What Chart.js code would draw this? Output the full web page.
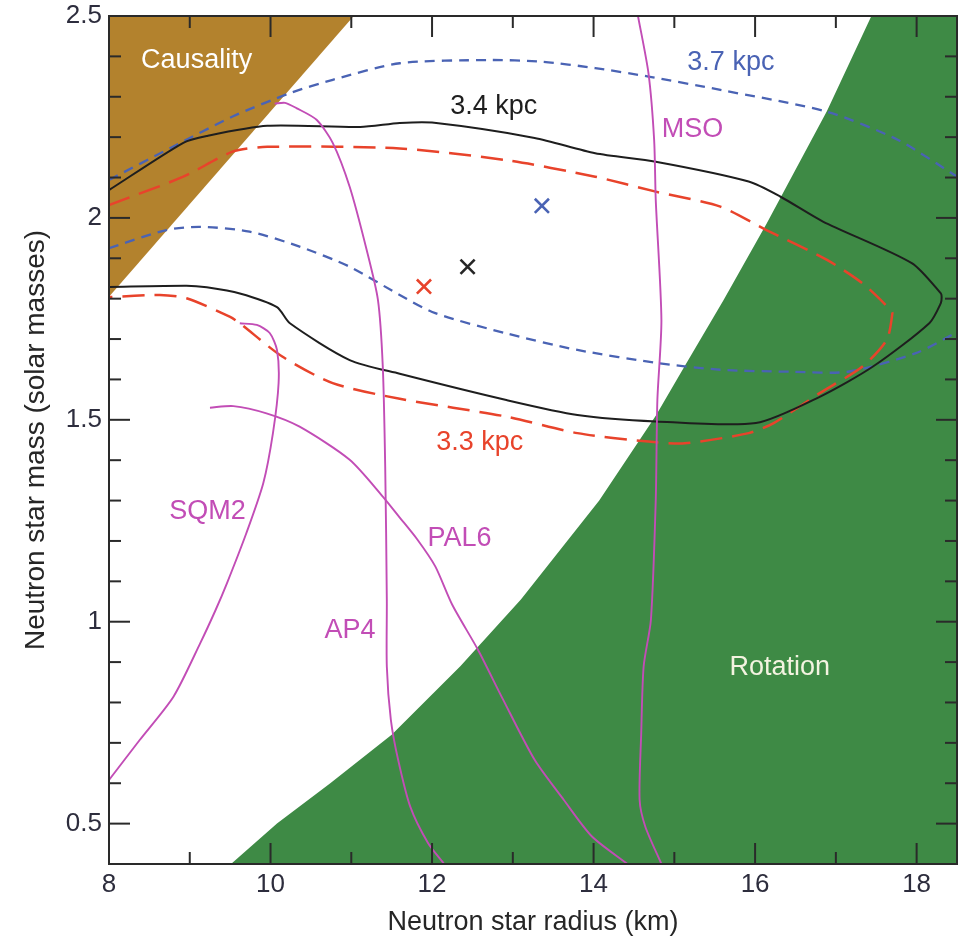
<!DOCTYPE html>
<html>
<head>
<meta charset="utf-8">
<script src="https://cdn.jsdelivr.net/npm/chart.js@4.4.1/dist/chart.umd.min.js"></script>
<style>
  html, body { margin: 0; padding: 0; background: #ffffff; }
  #wrap { width: 958px; height: 940px; }
</style>
</head>
<body>
<div id="wrap"><canvas id="mr" width="958" height="940"></canvas></div>
<script>
// ---- Neutron star mass (solar masses) vs radius (km) ----

// Excluded by causality (region above this edge)
const causalityR = [8.0, 11.03];
const causalityM = [1.805, 2.5];

// Excluded by rotation (region below/right of this edge)
const rotationR = [9.51, 10.08, 10.74, 11.50, 12.35, 13.10, 14.07, 14.77, 15.12, 15.61, 16.14, 16.89, 17.44, 18.5];
const rotationM = [0.40, 0.50, 0.60, 0.72, 0.89, 1.055, 1.30, 1.51, 1.63, 1.797, 1.985, 2.265, 2.5, 2.5];

// 3.4 kpc contour (solid)
const kpc34R = [8.00, 8.92, 9.21, 9.96, 11.11, 11.60, 12.00, 13.27, 14.02, 14.77, 15.92, 16.31, 16.84, 17.94, 18.30, 18.31, 18.30, 18.16, 17.46, 16.80, 16.01, 14.77, 13.80, 12.92, 11.60, 10.98, 10.24, 10.08, 9.62, 9.21, 8.96, 8.00];
const kpc34M = [2.069, 2.186, 2.203, 2.228, 2.225, 2.235, 2.236, 2.198, 2.160, 2.139, 2.090, 2.053, 1.991, 1.888, 1.813, 1.804, 1.789, 1.740, 1.632, 1.557, 1.492, 1.496, 1.512, 1.549, 1.614, 1.648, 1.739, 1.779, 1.813, 1.828, 1.832, 1.829];

// 3.3 kpc contour (long dashes)
const kpc33R = [8.00, 8.92, 9.53, 9.96, 11.60, 12.92, 14.02, 14.77, 15.57, 16.14, 16.89, 17.33, 17.68, 17.70, 17.63, 17.33, 16.80, 16.23, 15.92, 15.13, 14.68, 13.80, 12.92, 11.60, 10.77, 10.15, 9.62, 9.50, 8.96, 8.63, 8.00];
const kpc33M = [2.032, 2.102, 2.164, 2.176, 2.172, 2.143, 2.102, 2.065, 2.028, 1.970, 1.896, 1.838, 1.772, 1.764, 1.698, 1.632, 1.566, 1.492, 1.467, 1.442, 1.446, 1.467, 1.508, 1.552, 1.591, 1.656, 1.739, 1.755, 1.801, 1.809, 1.804];

// 3.7 kpc contour (short dashes), upper and lower branches
const kpc37UpperR = [8.00, 8.79, 9.53, 10.24, 10.77, 11.60, 12.70, 13.35, 14.02, 14.68, 15.57, 16.89, 17.77, 18.51];
const kpc37UpperM = [2.094, 2.176, 2.251, 2.309, 2.342, 2.383, 2.391, 2.387, 2.371, 2.350, 2.317, 2.263, 2.193, 2.101];
const kpc37LowerR = [8.00, 8.71, 9.13, 9.74, 10.36, 10.98, 11.60, 12.04, 12.92, 13.80, 14.82, 15.57, 16.45, 17.15, 17.99, 18.51];
const kpc37LowerM = [1.925, 1.970, 1.978, 1.966, 1.929, 1.879, 1.809, 1.764, 1.714, 1.673, 1.640, 1.624, 1.619, 1.619, 1.665, 1.718];

// Equations of state
const msoR = [14.55, 14.68, 14.75, 14.77, 14.84, 14.79, 14.77, 14.71, 14.62, 14.59, 14.57, 14.64, 14.84];
const msoM = [2.50, 2.358, 2.193, 2.044, 1.747, 1.549, 1.302, 1.005, 0.889, 0.724, 0.559, 0.493, 0.40];
const ap4R = [10.05, 10.18, 10.32, 10.57, 10.77, 10.98, 11.19, 11.33, 11.39, 11.42, 11.44, 11.44, 11.49, 11.58, 11.73, 11.95, 12.15];
const ap4M = [2.283, 2.285, 2.272, 2.243, 2.186, 2.077, 1.921, 1.797, 1.632, 1.384, 1.054, 0.889, 0.757, 0.658, 0.542, 0.452, 0.40];
const sqm2R = [9.62, 9.83, 9.99, 10.08, 10.10, 10.03, 9.91, 9.70, 9.46, 9.32, 9.13, 8.80, 8.38, 8.00];
const sqm2M = [1.739, 1.735, 1.715, 1.673, 1.591, 1.467, 1.343, 1.219, 1.095, 1.029, 0.947, 0.815, 0.707, 0.608];
const pal6R = [9.25, 9.54, 9.95, 10.36, 10.98, 11.39, 11.60, 11.82, 12.04, 12.25, 12.57, 12.88, 13.27, 13.63, 13.98, 14.42];
const pal6M = [1.530, 1.534, 1.516, 1.483, 1.401, 1.310, 1.258, 1.203, 1.137, 1.042, 0.930, 0.807, 0.658, 0.559, 0.468, 0.40];

// Best-fit points (3.3, 3.4, 3.7 kpc)
const bestR = [11.90, 12.44, 13.36];
const bestM = [1.830, 1.879, 2.030];

// Axis ticks
const xMajorTicks = [8, 10, 12, 14, 16, 18];
const xMinorTicks = [9, 11, 13, 15, 17];
const yMajorTicks = [0.5, 1, 1.5, 2, 2.5];
const yMinorTicks = [0.6, 0.7, 0.8, 0.9, 1.1, 1.2, 1.3, 1.4, 1.6, 1.7, 1.8, 1.9, 2.1, 2.2, 2.3, 2.4];

// ---- styling ----
const FONT = '"Liberation Sans", Arial, Helvetica, sans-serif';
const MAGENTA = '#c24db6';
const RED = '#e8432b';
const BLUE = '#4a63b4';
const BLACK = '#1e1e1e';

const notes = [
  { text: 'Causality', r: 9.085, m: 2.389, color: '#ffffff' },
  { text: '3.7 kpc',   r: 15.70, m: 2.385, color: BLUE },
  { text: '3.4 kpc',   r: 12.765, m: 2.275, color: BLACK },
  { text: 'MSO',       r: 15.226, m: 2.218, color: MAGENTA },
  { text: '3.3 kpc',   r: 12.59, m: 1.443, color: RED },
  { text: 'PAL6',      r: 12.339, m: 1.207, color: MAGENTA },
  { text: 'SQM2',      r: 9.219, m: 1.273, color: MAGENTA },
  { text: 'AP4',       r: 10.983, m: 0.978, color: MAGENTA },
  { text: 'Rotation',  r: 16.305, m: 0.887, color: '#f3f3e0' }
];

const pts = (xs, ys) => xs.map((x, i) => ({ x: x, y: ys[i] }));

const curve = (label, xs, ys, color, width, dash, order) => ({
  label: label,
  data: pts(xs, ys),
  borderColor: color,
  borderWidth: width,
  borderDash: dash || [],
  backgroundColor: 'rgba(0,0,0,0)',
  fill: false,
  tension: 0.25,
  pointRadius: 0,
  pointHoverRadius: 0,
  order: order
});

const region = (label, xs, ys, color, side) => ({
  label: label,
  data: pts(xs, ys),
  borderColor: 'rgba(0,0,0,0)',
  borderWidth: 0,
  backgroundColor: color,
  fill: side,
  tension: 0,
  pointRadius: 0,
  pointHoverRadius: 0,
  order: 30
});

// Frame with inward ticks on all four sides, plus the in-plot labels
const framePlugin = {
  id: 'frameAndNotes',
  afterDatasetsDraw(chart) {
    const { ctx, chartArea: a, scales } = chart;
    const xs = scales.x, ys = scales.y;
    ctx.save();

    ctx.font = '27px ' + FONT;
    ctx.textAlign = 'center';
    ctx.textBaseline = 'middle';
    notes.forEach(n => {
      ctx.fillStyle = n.color;
      ctx.fillText(n.text, xs.getPixelForValue(n.r), ys.getPixelForValue(n.m));
    });

    ctx.strokeStyle = '#2a2a2a';
    ctx.lineWidth = 2;
    ctx.lineCap = 'butt';
    const seg = (x1, y1, x2, y2) => { ctx.beginPath(); ctx.moveTo(x1, y1); ctx.lineTo(x2, y2); ctx.stroke(); };
    const xTick = (v, len) => {
      const p = xs.getPixelForValue(v);
      seg(p, a.bottom, p, a.bottom - len);
      seg(p, a.top, p, a.top + len);
    };
    const yTick = (v, len) => {
      const p = ys.getPixelForValue(v);
      seg(a.left, p, a.left + len, p);
      seg(a.right, p, a.right - len, p);
    };
    xMajorTicks.forEach(v => xTick(v, 21));
    xMinorTicks.forEach(v => xTick(v, 12));
    yMajorTicks.forEach(v => yTick(v, 21));
    yMinorTicks.forEach(v => yTick(v, 12));

    ctx.strokeRect(a.left, a.top, a.right - a.left, a.bottom - a.top);
    ctx.restore();
  }
};

Chart.defaults.font.family = FONT;

new Chart(document.getElementById('mr'), {
  type: 'line',
  data: {
    datasets: [
      region('Causality', causalityR, causalityM, '#b3822d', 'end'),
      region('Rotation', rotationR, rotationM, '#3e8a45', 'start'),
      curve('3.4 kpc', kpc34R, kpc34M, BLACK, 2, null, 5),
      curve('3.3 kpc', kpc33R, kpc33M, RED, 2.5, [22, 10], 5),
      curve('3.7 kpc', kpc37UpperR, kpc37UpperM, BLUE, 2.3, [10, 7], 5),
      curve('3.7 kpc lower', kpc37LowerR, kpc37LowerM, BLUE, 2.3, [10, 7], 5),
      curve('MSO', msoR, msoM, MAGENTA, 1.9, null, 4),
      curve('AP4', ap4R, ap4M, MAGENTA, 1.9, null, 4),
      curve('SQM2', sqm2R, sqm2M, MAGENTA, 1.9, null, 4),
      curve('PAL6', pal6R, pal6M, MAGENTA, 1.9, null, 4),
      {
        label: 'Best fits',
        data: pts(bestR, bestM),
        showLine: false,
        pointStyle: 'crossRot',
        pointRadius: 10,
        pointBorderWidth: 2.6,
        pointBorderColor: [RED, '#262626', BLUE],
        pointBackgroundColor: 'rgba(0,0,0,0)',
        order: 0
      }
    ]
  },
  options: {
    responsive: false,
    devicePixelRatio: 1,
    animation: false,
    events: [],
    layout: { autoPadding: false, padding: { top: 16, right: 1, left: 0, bottom: 0 } },
    plugins: {
      legend: { display: false },
      tooltip: { enabled: false }
    },
    scales: {
      x: {
        type: 'linear',
        min: 8,
        max: 18.5,
        afterBuildTicks: s => { s.ticks = xMajorTicks.map(v => ({ value: v })); },
        afterFit: s => { s.height = 76; s.paddingLeft = 0; s.paddingRight = 0; },
        grid: { display: false, drawTicks: false },
        border: { display: false },
        ticks: { color: '#2d2d3d', font: { size: 26 }, padding: 5, maxRotation: 0, callback: v => String(v) },
        title: { display: true, text: 'Neutron star radius (km)', color: '#262626', font: { size: 27 }, padding: { top: 0, bottom: 1 } }
      },
      y: {
        type: 'linear',
        min: 0.4,
        max: 2.5,
        afterBuildTicks: s => { s.ticks = yMajorTicks.map(v => ({ value: v })); },
        afterFit: s => { s.width = 109; s.paddingTop = 0; s.paddingBottom = 0; },
        grid: { display: false, drawTicks: false },
        border: { display: false },
        ticks: { color: '#2d2d3d', font: { size: 26 }, padding: 7, callback: v => String(v) },
        title: { display: true, text: 'Neutron star mass (solar masses)', color: '#262626', font: { size: 28 }, padding: { top: 19, bottom: 0 } }
      }
    }
  },
  plugins: [framePlugin]
});
</script>
</body>
</html>
